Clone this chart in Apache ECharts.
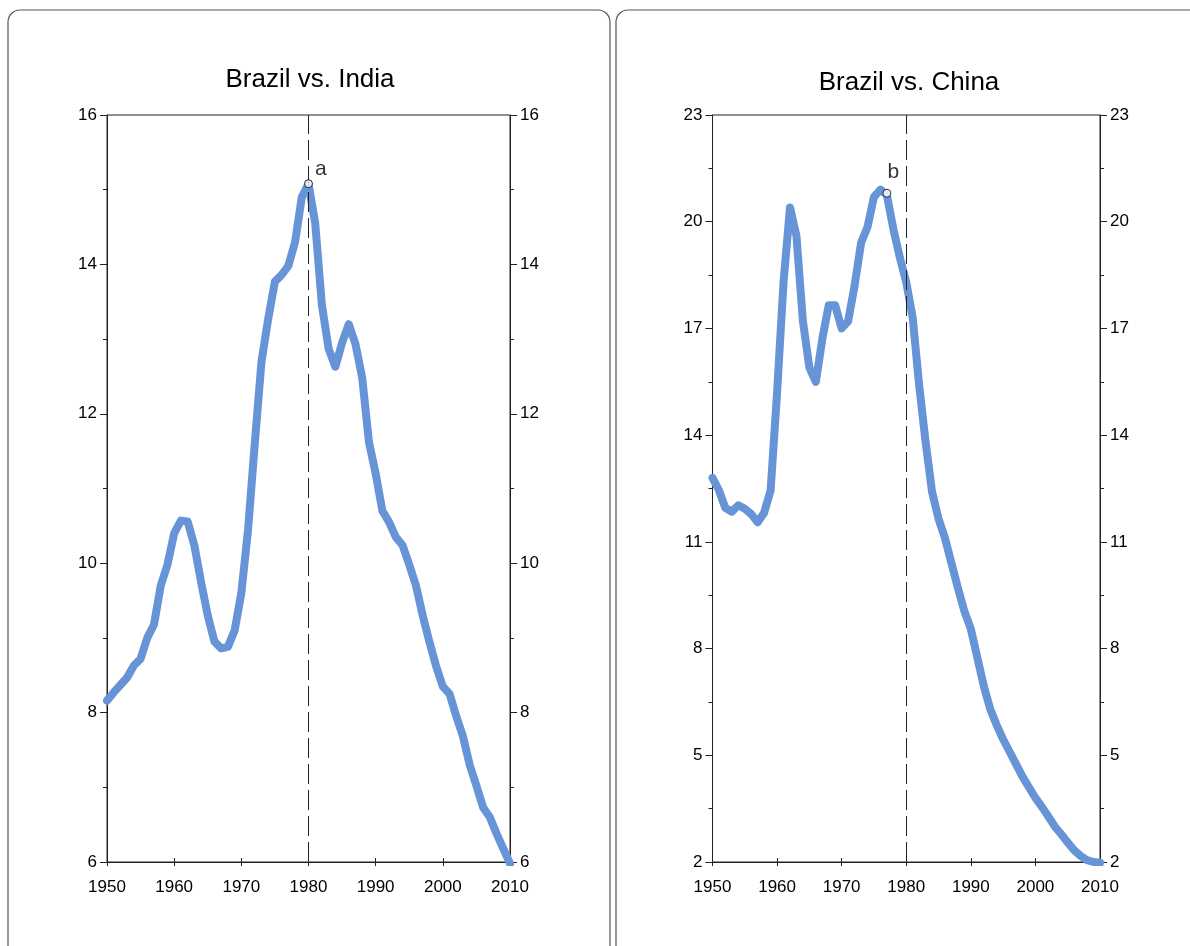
<!DOCTYPE html>
<html>
<head>
<meta charset="utf-8">
<script src="https://cdn.jsdelivr.net/npm/echarts@6/dist/echarts.min.js"></script>
<style>
html,body{margin:0;padding:0;background:#fff;}
#chart{width:1190px;height:946px;}
</style>
</head>
<body>
<div id="chart"></div>
<script>
// ---- data ----
const years = [];
for (let y = 1950; y <= 2010; y++) years.push(y);

const indiaValues = [
  8.16, 8.27, 8.37, 8.47, 8.63, 8.72, 9.0, 9.18, 9.7, 9.98,
  10.4, 10.57, 10.56, 10.24, 9.75, 9.3, 8.95, 8.86, 8.88, 9.1,
  9.6, 10.45, 11.6, 12.7, 13.27, 13.77, 13.86, 13.98, 14.3, 14.9,
  15.08, 14.55, 13.45, 12.87, 12.63, 12.95, 13.2, 12.93, 12.48, 11.62,
  11.2, 10.7, 10.55, 10.35, 10.24, 9.98, 9.7, 9.3, 8.95, 8.62,
  8.35, 8.25, 7.95, 7.68, 7.3, 7.02, 6.73, 6.6, 6.38, 6.18,
  5.98
];

const chinaValues = [
  12.8, 12.45, 11.95, 11.85, 12.03, 11.93, 11.78, 11.55, 11.82, 12.45,
  15.2, 18.3, 20.4, 19.6, 17.2, 15.9, 15.5, 16.7, 17.65, 17.65,
  17.0, 17.2, 18.2, 19.4, 19.85, 20.7, 20.9, 20.75, 19.8, 19.0,
  18.3, 17.3, 15.4, 13.8, 12.4, 11.65, 11.1, 10.4, 9.7, 9.05,
  8.55, 7.75, 6.95, 6.3, 5.85, 5.45, 5.1, 4.75, 4.4, 4.1,
  3.8, 3.55, 3.28, 3.0, 2.78, 2.55, 2.33, 2.17, 2.05, 2.0,
  1.98
];

const titles = ['Brazil vs. India', 'Brazil vs. China'];
const xTicks = [1950, 1960, 1970, 1980, 1990, 2000, 2010];
const indiaYTicks = [6, 8, 10, 12, 14, 16];
const chinaYTicks = [2, 5, 8, 11, 14, 17, 20, 23];
const refYear = 1980;
const pointA = [1980, 15.08];
const pointB = [1977, 20.8];

// ---- chart ----
const FONT = 'Liberation Sans, Arial, sans-serif';
const LINE_COLOR = '#6794d6';
const AX = '#222';

function pairs(xs, vs) { return xs.map((x, i) => [x, vs[i]]); }

function xAxes(gi) {
  const base = {
    type: 'value', gridIndex: gi, position: 'bottom',
    min: xTicks[0], max: xTicks[xTicks.length - 1], interval: 10,
    splitLine: { show: false }
  };
  return [
    Object.assign({}, base, {
      axisLine: { show: true, onZero: false, lineStyle: { color: AX, width: 1 } },
      axisTick: { show: true, inside: false, length: 4, lineStyle: { color: AX } },
      axisLabel: { show: true, margin: 17, color: '#000', fontSize: 17, fontFamily: FONT,
                   formatter: v => String(v) }
    }),
    Object.assign({}, base, {
      axisLine: { show: false, onZero: false },
      axisTick: { show: true, inside: true, length: 4, lineStyle: { color: AX } },
      axisLabel: { show: false }
    })
  ];
}

function yAxes(gi, ticks) {
  const base = {
    type: 'value', gridIndex: gi,
    min: ticks[0], max: ticks[ticks.length - 1], interval: ticks[1] - ticks[0],
    splitLine: { show: false },
    axisLine: { show: true, onZero: false, lineStyle: { color: AX, width: 1 } },
    axisTick: { show: true, inside: false, length: 7, lineStyle: { color: AX } },
    minorTick: { show: true, splitNumber: 2, length: 4, lineStyle: { color: AX } },
    axisLabel: { show: true, margin: 10, color: '#000', fontSize: 17, fontFamily: FONT,
                 formatter: v => String(v) }
  };
  return [
    Object.assign({}, base, { position: 'left' }),
    Object.assign({}, base, { position: 'right' })
  ];
}

function lineSeries(xi, yi, vals) {
  return {
    type: 'line', xAxisIndex: xi, yAxisIndex: yi,
    data: pairs(years, vals), showSymbol: false, symbol: 'none',
    lineStyle: { color: LINE_COLOR, width: 8, join: 'round', cap: 'round' },
    z: 2, silent: true, animation: false,
    markLine: {
      silent: true, symbol: 'none', animation: false,
      label: { show: false },
      lineStyle: { color: '#222', type: [20, 6], width: 1 },
      data: [{ xAxis: refYear }]
    }
  };
}

function pointSeries(xi, yi, pt, txt, labelPos) {
  return {
    type: 'scatter', xAxisIndex: xi, yAxisIndex: yi,
    data: [pt], symbol: 'circle', symbolSize: 8,
    itemStyle: { color: '#fff', borderColor: '#000', borderWidth: 1 },
    label: { show: true, formatter: txt, position: labelPos, color: '#000', fontSize: 21, fontFamily: FONT },
    z: 5, silent: true, animation: false
  };
}

const option = {
  backgroundColor: '#fff',
  animation: false,
  title: [
    { text: titles[0], left: 305, top: 62, textAlign: 'center',
      textStyle: { fontSize: 26, fontWeight: 'normal', color: '#000', fontFamily: FONT } },
    { text: titles[1], left: 904, top: 65, textAlign: 'center',
      textStyle: { fontSize: 26, fontWeight: 'normal', color: '#000', fontFamily: FONT } }
  ],
  graphic: [
    { type: 'rect', shape: { x: 8, y: 10, width: 602, height: 960, r: 12 },
      style: { fill: 'none', stroke: '#555', lineWidth: 1.2 }, z: -10, silent: true },
    { type: 'rect', shape: { x: 616, y: 10, width: 586, height: 960, r: 12 },
      style: { fill: 'none', stroke: '#555', lineWidth: 1.2 }, z: -10, silent: true }
  ],
  grid: [
    { left: 107, right: 680, top: 115, bottom: 84, show: true, borderColor: AX, borderWidth: 1, backgroundColor: 'transparent' },
    { left: 712.5, right: 90, top: 115, bottom: 84, show: true, borderColor: AX, borderWidth: 1, backgroundColor: 'transparent' }
  ],
  xAxis: [].concat(xAxes(0), xAxes(1)),
  yAxis: [].concat(yAxes(0, indiaYTicks), yAxes(1, chinaYTicks)),
  series: [
    lineSeries(0, 0, indiaValues),
    pointSeries(0, 0, pointA, 'a', [11, -21]),
    lineSeries(2, 2, chinaValues),
    pointSeries(2, 2, pointB, 'b', [5, -27])
  ]
};

const chart = echarts.init(document.getElementById('chart'), null, { renderer: 'canvas' });
chart.setOption(option);
</script>
</body>
</html>
